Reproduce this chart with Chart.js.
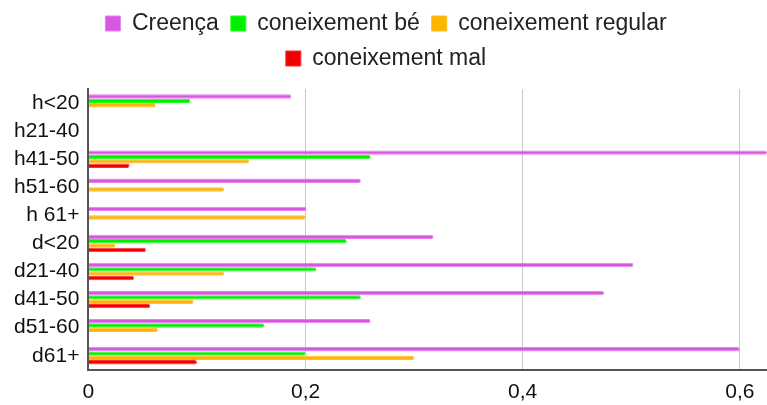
<!DOCTYPE html>
<html>
<head>
<meta charset="utf-8">
<script src="https://cdn.jsdelivr.net/npm/chart.js@4"></script>
<style>
  body { margin: 0; background: #fff; }
  #wrap { width: 767px; height: 405px; }
</style>
</head>
<body>
<div id="wrap"><canvas id="myChart" width="767" height="405"></canvas></div>
<script>
const categories = ['h<20', 'h21-40', 'h41-50', 'h51-60', 'h 61+', 'd<20', 'd21-40', 'd41-50', 'd51-60', 'd61+'];
const creenca = [0.187, 0, 0.625, 0.251, 0.201, 0.318, 0.502, 0.475, 0.26, 0.6];
const coneixementBe = [0.094, 0, 0.26, 0, 0, 0.238, 0.21, 0.251, 0.162, 0.2];
const coneixementRegular = [0.062, 0, 0.148, 0.125, 0.2, 0.025, 0.125, 0.097, 0.064, 0.3];
const coneixementMal = [0, 0, 0.038, 0, 0, 0.053, 0.042, 0.057, 0, 0.1];
const tickValues = [0, 0.2, 0.4, 0.6];

// a bit more room under the legend
const legendGap = {
    id: 'legendGap',
    beforeInit(chart) {
        const fit = chart.legend.fit;
        chart.legend.fit = function () {
            fit.bind(chart.legend)();
            this.height += 9;
        };
    }
};

const ctx = document.getElementById('myChart').getContext('2d');
const myChart = new Chart(ctx, {
    type: 'bar',
    data: {
        labels: categories,
        datasets: [{
            label: 'Creença',
            data: creenca,
            backgroundColor: '#d758e0',
            borderColor: '#ea80ee',
            borderWidth: 1,
            borderRadius: 2
        }, {
            label: 'coneixement bé',
            data: coneixementBe,
            backgroundColor: '#00f000',
            borderColor: '#20ff20',
            borderWidth: 1,
            borderRadius: 2
        }, {
            label: 'coneixement regular',
            data: coneixementRegular,
            backgroundColor: '#ffb400',
            borderColor: '#ffc020',
            borderWidth: 1,
            borderRadius: 2
        }, {
            label: 'coneixement mal',
            data: coneixementMal,
            backgroundColor: '#f00000',
            borderColor: '#ff3030',
            borderWidth: 1,
            borderRadius: 2
        }]
    },
    options: {
        indexAxis: 'y',
        responsive: false,
        animation: false,
        categoryPercentage: 0.62,
        barPercentage: 1,
        layout: { padding: { left: 5, right: 0, top: 0, bottom: -10 } },
        plugins: {
            legend: {
                position: 'top',
                labels: {
                    font: { family: 'Liberation Sans', size: 23 },
                    color: '#222',
                    boxWidth: 15,
                    boxHeight: 15,
                    padding: 12
                }
            },
            tooltip: { enabled: false }
        },
        scales: {
            x: {
                min: 0,
                max: 0.625,
                ticks: {
                    stepSize: 0.2,
                    includeBounds: false,
                    padding: 10,
                    color: '#111',
                    font: { family: 'Liberation Sans', size: 21 },
                    callback: v => tickValues.includes(Math.round(v * 10) / 10) ? String(Math.round(v * 10) / 10).replace('.', ',') : ''
                },
                grid: { color: '#c8c8c8', drawTicks: false, lineWidth: 1 },
                border: { color: '#555', width: 2 }
            },
            y: {
                ticks: {
                    autoSkip: false,
                    padding: 9,
                    color: '#111',
                    font: { family: 'Liberation Sans', size: 21 }
                },
                grid: { display: false, drawTicks: false },
                border: { color: '#555', width: 2 }
            }
        }
    },
    plugins: [legendGap]
});
</script>
</body>
</html>
